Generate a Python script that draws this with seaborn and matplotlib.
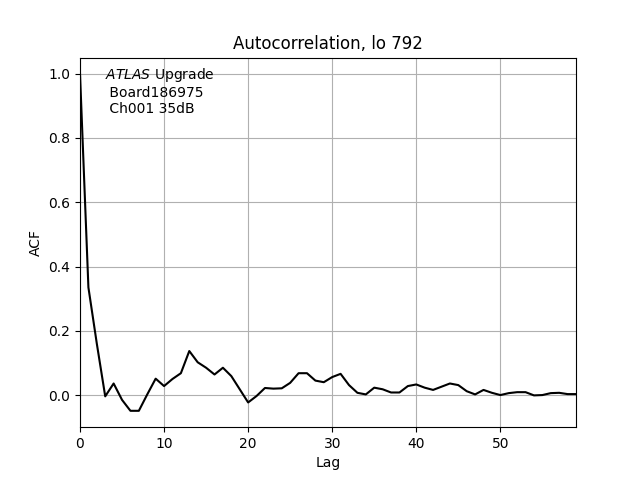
import matplotlib
matplotlib.use("Agg")
import matplotlib.pyplot as plt
import seaborn as sns
import pandas as pd

lags = list(range(60))
acf = [1.0, 0.335, 0.16, -0.004, 0.036, -0.015, -0.049, -0.049, 0.002, 0.051,
       0.028, 0.05, 0.068, 0.137, 0.102, 0.085, 0.064, 0.085, 0.059, 0.018,
       -0.023, -0.003, 0.022, 0.02, 0.021, 0.038, 0.068, 0.068, 0.045, 0.04,
       0.056, 0.066, 0.031, 0.007, 0.002, 0.023, 0.018, 0.008, 0.008, 0.028,
       0.033, 0.023, 0.016, 0.026, 0.036, 0.031, 0.012, 0.002, 0.016, 0.007,
       0.0, 0.006, 0.009, 0.009, -0.001, 0.0, 0.006, 0.007, 0.003, 0.003]

df = pd.DataFrame({"Lag": lags, "ACF": acf})

fig, ax = plt.subplots(figsize=(6.4, 4.8), dpi=100)
sns.lineplot(data=df, x="Lag", y="ACF", color="black", linewidth=1.5, ax=ax)
ax.set_xlim(0, 59)
ax.set_ylim(-0.1, 1.05)
ax.grid(True, color="#b0b0b0", linewidth=0.8)
ax.set_title("Autocorrelation, lo 792")
ax.set_xlabel("Lag")
ax.set_ylabel("ACF")
ax.text(0.05, 0.978, "$\\it{ATLAS}$ Upgrade\n Board186975\n Ch001 35dB",
        transform=ax.transAxes, va="top", ha="left")
fig.savefig("out.png", dpi=100)
